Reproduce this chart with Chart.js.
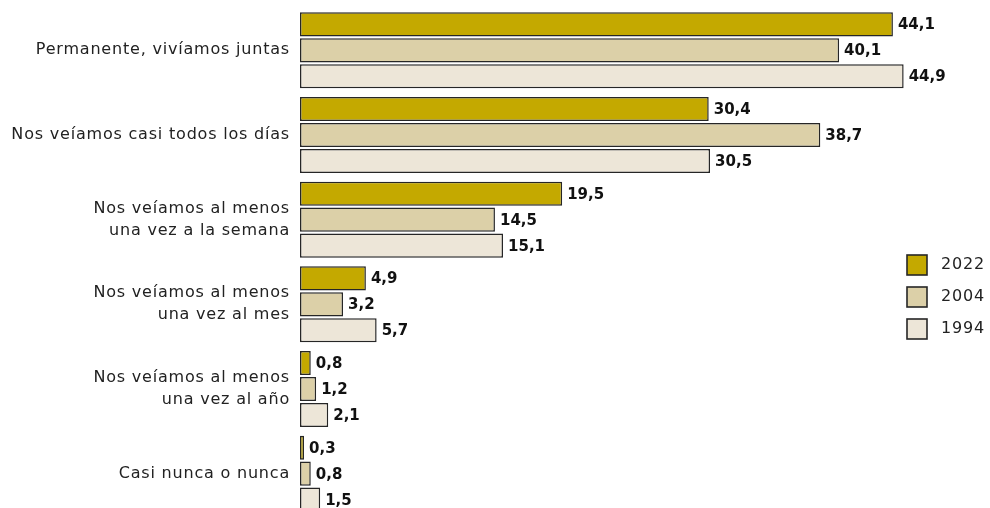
<!DOCTYPE html>
<html lang="es">
<head>
<meta charset="utf-8">
<script src="https://cdn.jsdelivr.net/npm/chart.js@4.4.1/dist/chart.umd.min.js"></script>
<style>
  html, body { margin: 0; padding: 0; background: #fff; overflow: hidden; }
  #wrap { position: relative; width: 990px; height: 516px; }
</style>
</head>
<body>
<div id="wrap"><canvas id="freqChart"></canvas></div>
<script>
// ── DATA ──
const categories = [
  'Permanente, vivíamos juntas',
  'Nos veíamos casi todos los días',
  ['Nos veíamos al menos', 'una vez a la semana'],
  ['Nos veíamos al menos', 'una vez al mes'],
  ['Nos veíamos al menos', 'una vez al año'],
  'Casi nunca o nunca'
];
const seriesNames = ['2022', '2004', '1994'];
const values2022 = [44.1, 30.4, 19.5, 4.9, 0.8, 0.3];
const values2004 = [40.1, 38.7, 14.5, 3.2, 1.2, 0.8];
const values1994 = [44.9, 30.5, 15.1, 5.7, 2.1, 1.5];
const seriesColors = ['#C4A900', '#DCD0A8', '#EDE6D8'];

const FONT = '"DejaVu Sans", sans-serif';
const BORDER = '#262626';

// wider tracking for the category labels
const tracking = {
  id: 'tracking',
  beforeDraw(chart) { chart.ctx.letterSpacing = '0.8px'; }
};

// ── VALUE LABELS ──
const valueLabels = {
  id: 'valueLabels',
  afterDatasetsDraw(chart) {
    const ctx = chart.ctx;
    ctx.save();
    ctx.letterSpacing = '0px';
    ctx.font = 'bold 15px ' + FONT;
    ctx.fillStyle = '#111';
    ctx.textAlign = 'left';
    ctx.textBaseline = 'middle';
    chart.data.datasets.forEach((ds, i) => {
      chart.getDatasetMeta(i).data.forEach((bar, j) => {
        const txt = ds.data[j].toFixed(1).replace('.', ',');
        ctx.fillText(txt, bar.x + 5, bar.y + 1);
      });
    });
    ctx.restore();
  }
};

// ── LEGEND ──
const sideLegend = {
  id: 'sideLegend',
  afterDraw(chart) {
    const ctx = chart.ctx;
    ctx.save();
    ctx.letterSpacing = '0.8px';
    ctx.font = '16px ' + FONT;
    ctx.textBaseline = 'middle';
    ctx.textAlign = 'left';
    chart.data.datasets.forEach((ds, i) => {
      const y = 255 + i * 32;
      ctx.fillStyle = ds.backgroundColor;
      ctx.fillRect(907, y, 20, 20);
      ctx.lineWidth = 1.6;
      ctx.strokeStyle = BORDER;
      ctx.strokeRect(907, y, 20, 20);
      ctx.fillStyle = '#222';
      ctx.fillText(ds.label, 941, y + 10);
    });
    ctx.restore();
  }
};

const datasets = [values2022, values2004, values1994].map((vals, i) => ({
  label: seriesNames[i],
  data: vals,
  backgroundColor: seriesColors[i],
  borderColor: BORDER,
  borderWidth: 1.5,
  borderSkipped: false,
  categoryPercentage: 0.92,
  barPercentage: 0.93
}));

new Chart(document.getElementById('freqChart'), {
  type: 'bar',
  data: { labels: categories, datasets },
  options: {
    indexAxis: 'y',
    responsive: true,
    maintainAspectRatio: false,
    animation: false,
    layout: { padding: { top: 8, right: 85, bottom: 0, left: 0 } },
    plugins: {
      legend: { display: false },
      tooltip: { enabled: false }
    },
    scales: {
      x: {
        min: 0,
        max: 45,
        display: false
      },
      y: {
        grid: { display: false, drawTicks: false },
        border: { display: false },
        afterFit(scale) {
          scale.width = 300;
          scale.paddingTop = 0;
          scale.paddingBottom = 0;
        },
        ticks: {
          padding: 10,
          color: '#222',
          font: { family: FONT, size: 16, lineHeight: 1.375 }
        }
      }
    }
  },
  plugins: [tracking, valueLabels, sideLegend]
});
</script>
</body>
</html>
